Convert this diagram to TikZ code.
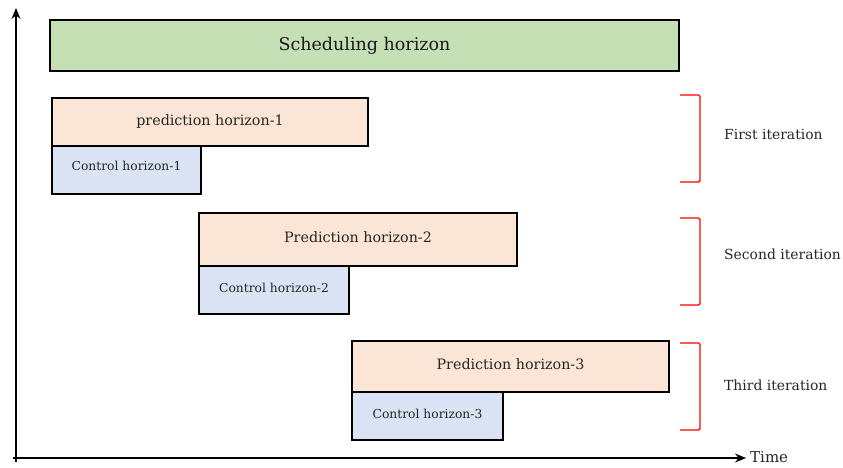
\documentclass[tikz,border=0pt]{standalone}
\usepackage{fontspec}
\setmainfont{DejaVu Serif}
\usetikzlibrary{arrows.meta}
\definecolor{schedgreen}{HTML}{C5E0B4}
\definecolor{predpeach}{HTML}{FBE5D6}
\definecolor{ctrlblue}{HTML}{DAE3F3}
\tikzset{
  hbox/.style={draw=black, line width=1.4pt, inner sep=0pt, outer sep=0pt, anchor=north west},
  schedbox/.style={hbox, fill=schedgreen},
  predbox/.style={hbox, fill=predpeach},
  ctrlbox/.style={hbox, fill=ctrlblue},
  schedtext/.style={font=\fontsize{17.5}{20}\selectfont, text=black!90},
  predtext/.style={font=\fontsize{14.3}{17}\selectfont, text=black!85},
  ctrltext/.style={font=\fontsize{12.3}{14}\selectfont, text=black!85},
  bracket/.style={draw=red, line width=1.4pt, rounded corners=1.5pt},
  iterlabel/.style={anchor=west, inner sep=0pt, font=\fontsize{13.9}{17}\selectfont, text=black!85},
  axis/.style={draw=black, line width=1.2pt, -{Stealth[length=11pt,width=9pt]}}
}
\begin{document}
\begin{tikzpicture}[x=1pt,y=-1pt]
\useasboundingbox (0,0) rectangle (843,467);
% axes
\coordinate (ytip) at (16,8);
\coordinate (xtip) at (746,458);
\draw[axis] (16,462) -- (ytip);
\draw[axis] (13,458) -- (xtip);
\node[anchor=west, inner sep=0pt, font=\fontsize{15}{18}\selectfont, text=black!85] (time) at (750,457) {Time};
% scheduling
\node[schedbox, minimum width=629pt, minimum height=51pt] (sched) at (50,20) {};
\node[schedtext] (schedt) at (sched.center) {Scheduling horizon};
% iteration 1
\node[predbox, minimum width=316pt, minimum height=48pt] (p1) at (52,98) {};
\node[predtext] (p1t) at (p1.center) {prediction horizon-1};
\node[ctrlbox, minimum width=149pt, minimum height=48pt] (c1) at (52,146) {};
\node[ctrltext] (c1t) at ([yshift=4pt]c1.center) {Control horizon-1};
% iteration 2
\node[predbox, minimum width=318pt, minimum height=53pt] (p2) at (199,213) {};
\node[predtext] (p2t) at ([yshift=2pt]p2.center) {Prediction horizon-2};
\node[ctrlbox, minimum width=150pt, minimum height=48pt] (c2) at (199,266) {};
\node[ctrltext] (c2t) at ([yshift=2pt]c2.center) {Control horizon-2};
% iteration 3
\node[predbox, minimum width=317pt, minimum height=51pt] (p3) at (352,341) {};
\node[predtext] (p3t) at ([yshift=2pt]p3.center) {Prediction horizon-3};
\node[ctrlbox, minimum width=151pt, minimum height=48pt] (c3) at (352,392) {};
\node[ctrltext] (c3t) at ([yshift=2pt]c3.center) {Control horizon-3};
% brackets
\coordinate (b1a) at (680,95); \coordinate (b1b) at (680,182);
\coordinate (b2a) at (680,218); \coordinate (b2b) at (680,305);
\coordinate (b3a) at (680,343); \coordinate (b3b) at (680,430);
\draw[bracket] (b1a) -- ++(20,0) |- (b1b);
\draw[bracket] (b2a) -- ++(20,0) |- (b2b);
\draw[bracket] (b3a) -- ++(20,0) |- (b3b);
\node[iterlabel] (l1) at (724,134) {First iteration};
\node[iterlabel] (l2) at (724,254) {Second iteration};
\node[iterlabel] (l3) at (724,385) {Third iteration};
\end{tikzpicture}
\end{document}
